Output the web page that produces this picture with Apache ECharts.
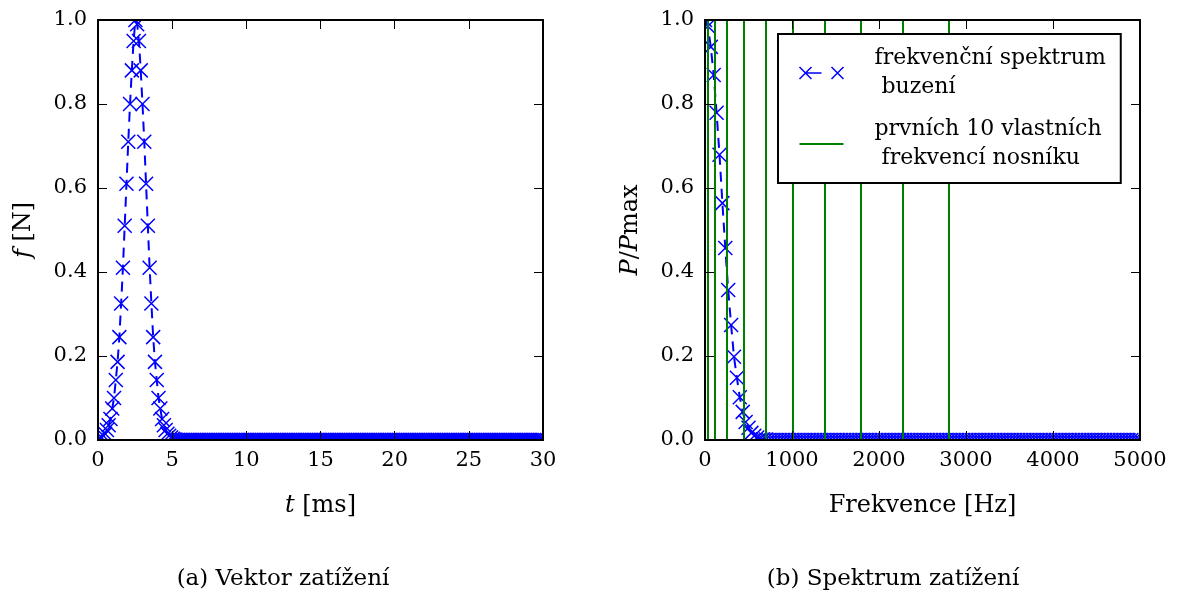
<!DOCTYPE html>
<html><head><meta charset="utf-8">
<script src="https://cdn.jsdelivr.net/npm/echarts@6/dist/echarts.min.js"></script>
<style>html,body{margin:0;padding:0;background:#fff}#c{width:1179px;height:601px}</style>
</head><body><div id="c"></div><script>
// ---- data ----
const timeStepMs = 0.12;
const forceValues = [
 0.001,0.003,0.006,0.01,0.015,0.024,0.035,0.05,0.075,0.10,
 0.143,0.186,0.245,0.325,0.41,0.51,0.61,0.71,0.80,0.88,
 0.95,1.0,0.99,0.95,0.88,0.80,0.71,0.61,0.51,0.41,
 0.325,0.245,0.186,0.143,0.10,0.075,0.05,0.035,0.024,0.015,
 0.01,0.006,0.003,0.001,0,0,0,0,0,0,
 0,0,0,0,0,0,0,0,0,0, 0,0,0,0,0,0,0,0,0,0, 0,0,0,0,0,0,0,0,0,0, 0,0,0,0,0,0,0,0,0,0, 0,0,0,0,0,0,0,0,0,0,
 0,0,0,0,0,0,0,0,0,0, 0,0,0,0,0,0,0,0,0,0, 0,0,0,0,0,0,0,0,0,0, 0,0,0,0,0,0,0,0,0,0, 0,0,0,0,0,0,0,0,0,0,
 0,0,0,0,0,0,0,0,0,0, 0,0,0,0,0,0,0,0,0,0, 0,0,0,0,0,0,0,0,0,0, 0,0,0,0,0,0,0,0,0,0, 0,0,0,0,0,0,0,0,0,0,
 0,0,0,0,0,0,0,0,0,0, 0,0,0,0,0,0,0,0,0,0, 0,0,0,0,0,0,0,0,0,0, 0,0,0,0,0,0,0,0,0,0, 0,0,0,0,0,0,0,0,0,0,
 0
];
const freqStepHz = 100 / 3;
const spectrumValues = [
 1.0,0.985,0.936,0.869,0.779,0.679,0.564,0.457,0.357,0.274,
 0.198,0.148,0.102,0.067,0.043,0.029,0.017,0.010,0.006,0.003,
 0.002,0.001,0,0,0,0,0,0,0,0,
 0,0,0,0,0,0,0,0,0,0, 0,0,0,0,0,0,0,0,0,0, 0,0,0,0,0,0,0,0,0,0, 0,0,0,0,0,0,0,0,0,0,
 0,0,0,0,0,0,0,0,0,0, 0,0,0,0,0,0,0,0,0,0, 0,0,0,0,0,0,0,0,0,0, 0,0,0,0,0,0,0,0,0,0,
 0,0,0,0,0,0,0,0,0,0, 0,0,0,0,0,0,0,0,0,0, 0,0,0,0,0,0,0,0,0,0, 0,0,0,0,0,0,0,0,0,0,
 0
];
const naturalFreqsHz = [28, 112, 252, 448, 700, 1008, 1372, 1792, 2268, 2800];
const timeTicks = [0, 5, 10, 15, 20, 25, 30];
const freqTicks = [0, 1000, 2000, 3000, 4000, 5000];
const yTicks = [0.0, 0.2, 0.4, 0.6, 0.8, 1.0];
const seriesNames = ['frekvenční spektrum\n buzení', 'prvních 10 vlastních\n frekvencí nosníku'];
const captions = ['(a) Vektor zatížení', '(b) Spektrum zatížení'];

// ---- chart ----
const FONT = 'DejaVu Serif';
const BLUE = '#0000ff', GREEN = '#008000';
const grids = [
  {left: 98, top: 20, width: 445, height: 420},
  {left: 705, top: 20, width: 435, height: 420}
];
const xTickSets = [timeTicks, freqTicks];

const xAxes = [], yAxes = [];
grids.forEach((g, gi) => {
  const tk = xTickSets[gi];
  const common = {
    type: 'value', gridIndex: gi, z: 10,
    min: tk[0], max: tk[tk.length - 1], interval: tk[1] - tk[0],
    splitLine: {show: false},
    axisLine: {show: true, onZero: false, lineStyle: {color: '#000', width: 2}},
    axisTick: {show: true, inside: true, length: 9, lineStyle: {color: '#000', width: 1}}
  };
  xAxes.push(Object.assign({}, common, {
    position: 'bottom',
    axisLabel: {show: true, margin: 10, fontFamily: FONT, fontSize: 21, color: '#000',
      formatter: v => String(v)},
    name: gi === 0 ? '{i|t} [ms]' : 'Frekvence [Hz]',
    nameLocation: 'middle', nameGap: 54,
    nameTextStyle: {fontFamily: FONT, fontSize: 24, color: '#000',
      rich: {i: {fontFamily: FONT, fontSize: 24, fontStyle: 'italic', color: '#000'}}}
  }));
  xAxes.push(Object.assign({}, common, {position: 'top', axisLabel: {show: false}}));
  const ycommon = {
    type: 'value', gridIndex: gi, z: 10,
    min: yTicks[0], max: yTicks[yTicks.length - 1], interval: yTicks[1] - yTicks[0],
    splitLine: {show: false},
    axisLine: {show: true, onZero: false, lineStyle: {color: '#000', width: 2}},
    axisTick: {show: true, inside: true, length: 9, lineStyle: {color: '#000', width: 1}}
  };
  yAxes.push(Object.assign({}, ycommon, {
    position: 'left',
    axisLabel: {show: true, margin: 11, fontFamily: FONT, fontSize: 21, color: '#000',
      formatter: v => v.toFixed(1)},
    name: gi === 0 ? '{i|f} [N]' : '{i|P}/{i|P}max',
    nameLocation: 'middle', nameGap: 62, nameRotate: 90,
    nameTextStyle: {fontFamily: FONT, fontSize: 24, color: '#000',
      rich: {i: {fontFamily: FONT, fontSize: 24, fontStyle: 'italic', color: '#000'}}}
  }));
  yAxes.push(Object.assign({}, ycommon, {position: 'right', axisLabel: {show: false}}));
});

const xMarker = 'path://M0,0L10,10M10,0L0,10';
const markerSeries = (name, data, xi, yi) => ({
  name, type: 'line', xAxisIndex: xi, yAxisIndex: yi, data,
  symbol: xMarker, symbolSize: 14, showAllSymbol: true,
  itemStyle: {color: BLUE, borderColor: BLUE, borderWidth: 1.5},
  lineStyle: {color: BLUE, width: 2, type: [10, 7]},
  emphasis: {disabled: true}, silent: true, z: 2, clip: true
});

// white masks hide marker parts that spill outside the plot frames
const masks = [];
grids.forEach(g => {
  const pad = 9;
  const r = g.left + g.width, b = g.top + g.height;
  [[g.left - pad, g.top - pad, g.width + 2 * pad, pad - 1],
   [g.left - pad, b + 1, g.width + 2 * pad, pad],
   [g.left - pad, g.top - pad, pad - 1, g.height + 2 * pad],
   [r + 1, g.top - pad, pad, g.height + 2 * pad]].forEach(s => {
    masks.push({type: 'rect', silent: true, z: 5,
      shape: {x: s[0], y: s[1], width: s[2], height: s[3]}, style: {fill: '#fff'}});
  });
});

const option = {
  animation: false,
  backgroundColor: '#fff',
  grid: grids.map(g => Object.assign({containLabel: false}, g)),
  xAxis: xAxes,
  yAxis: yAxes,
  legend: {
    orient: 'vertical', left: 778, top: 34, selectedMode: false, z: 20,
    itemWidth: 44, itemHeight: 12, itemGap: 13,
    padding: [10, 15, 10, 19], borderColor: '#000', borderWidth: 2, backgroundColor: '#fff',
    textStyle: {fontFamily: FONT, fontSize: 22, lineHeight: 29, color: '#000', padding: [0, 0, 0, 26]},
    data: [
      {name: seriesNames[0], icon: 'path://M0,0L12,12M12,0L0,12M6,6L22,6M32,0L44,12M44,0L32,12',
        itemStyle: {color: 'none', borderColor: BLUE, borderWidth: 1.5}},
      {name: seriesNames[1], icon: 'path://M0,0L44,0L44,2L0,2Z',
        itemStyle: {color: GREEN, borderWidth: 0}}
    ]
  },
  graphic: {elements: masks.concat([
    {type: 'text', x: 283, y: 579, z: 5, silent: true,
      style: {text: captions[0], font: '23px "DejaVu Serif"', fill: '#000', align: 'center', verticalAlign: 'middle'}},
    {type: 'text', x: 893, y: 579, z: 5, silent: true,
      style: {text: captions[1], font: '23px "DejaVu Serif"', fill: '#000', align: 'center', verticalAlign: 'middle'}}
  ])},
  series: [
    markerSeries('force', forceValues.map((v, i) => [i * timeStepMs, v]), 0, 0),
    {
      name: seriesNames[1], type: 'line', xAxisIndex: 2, yAxisIndex: 2, data: [],
      symbol: 'none', lineStyle: {color: GREEN, width: 2}, itemStyle: {color: GREEN},
      silent: true, z: 2,
      markLine: {silent: true, symbol: ['none', 'none'], label: {show: false},
        lineStyle: {color: GREEN, width: 2, type: 'solid'}, emphasis: {disabled: true},
        data: naturalFreqsHz.map(f => ({xAxis: f}))}
    },
    markerSeries(seriesNames[0], spectrumValues.map((v, k) => [k * freqStepHz, v]), 2, 2)
  ]
};
const chart = echarts.init(document.getElementById('c'), null, {renderer: 'canvas'});
chart.setOption(option);
</script></body></html>
